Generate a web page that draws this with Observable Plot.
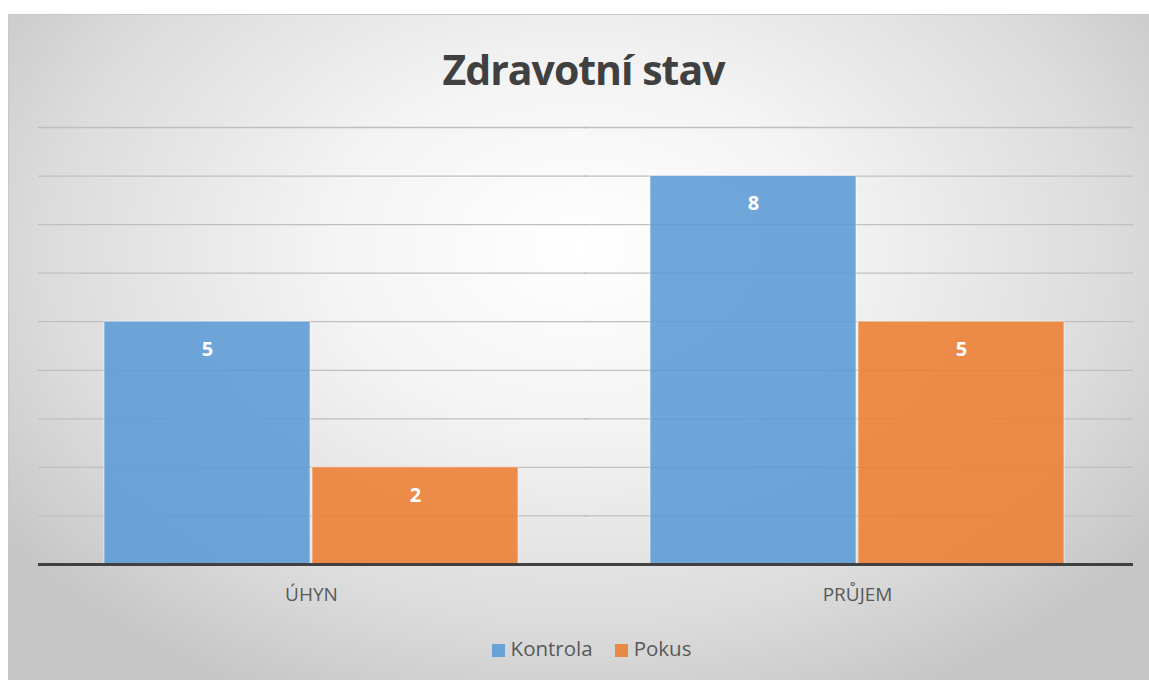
<!DOCTYPE html>
<html>
<head>
<meta charset="utf-8">
<script src="https://cdn.jsdelivr.net/npm/d3@7"></script>
<script src="https://cdn.jsdelivr.net/npm/@observablehq/plot@0.6"></script>
<style>
  html, body { margin: 0; padding: 0; background: #ffffff; width: 1149px; height: 680px; overflow: hidden; }
  #frame {
    position: absolute; left: 8px; top: 14px; width: 1141px; height: 666px;
    background: radial-gradient(ellipse 62% 75% at 50% 35%, #ffffff 0%, #f4f4f4 35%, #dcdcdc 75%, #c6c6c6 100%);
    border-top: 1px solid #c8c8c8; border-left: 1px solid #c8c8c8;
    font-family: "Open Sans", sans-serif;
  }
  #title {
    position: absolute; left: 4px; width: 100%; top: 26px; text-align: center;
    font-size: 41px; font-weight: bold; color: #404040; letter-spacing: -1px;
  }
  #chart { position: absolute; left: -1px; top: 100px; }
  #legend {
    position: absolute; left: 12px; width: 100%; top: 619px; text-align: center;
    font-size: 20.5px; color: #595959;
  }
  .sw { display: inline-block; width: 13px; height: 13px; margin-right: 6px; vertical-align: -1px; }
  .item { margin: 0 11px; }
</style>
</head>
<body>
<div id="frame">
  <div id="title">Zdravotní stav</div>
  <div id="chart"></div>
  <div id="legend"></div>
</div>
<script>
const categories = ["ÚHYN", "PRŮJEM"];
const seriesNames = ["Kontrola", "Pokus"];
const kontrola = [5, 8];
const pokus = [2, 5];
const colors = ["#5B9BD5", "#ED7D31"];
const yTicks = [0, 1, 2, 3, 4, 5, 6, 7, 8, 9];

const data = [];
categories.forEach((c, i) => {
  data.push({category: c, series: seriesNames[0], value: kontrola[i]});
  data.push({category: c, series: seriesNames[1], value: pokus[i]});
});

const chart = Plot.plot({
  width: 1141,
  height: 510,
  marginLeft: 30,
  marginRight: 19,
  marginTop: 12,
  marginBottom: 61,
  style: {background: "transparent", fontFamily: "Open Sans, sans-serif"},
  fx: {domain: categories, padding: 0, label: null, axis: null},
  x: {domain: seriesNames, paddingInner: 0.01, paddingOuter: 0.317, axis: null},
  y: {domain: [0, 9], axis: null},
  color: {domain: seriesNames, range: colors},
  marks: [
    Plot.ruleY(yTicks.filter(d => d > 0), {stroke: "#bfbfbf", strokeWidth: 1.3, insetRight: -3}),
    Plot.barY(data, {fx: "category", x: "series", y: "value", fill: "series", fillOpacity: 0.88, stroke: "#ffffff", strokeOpacity: 0.55, strokeWidth: 1}),
    Plot.text(data, {fx: "category", x: "series", y: "value", text: d => String(d.value), dy: 28, fill: "#ffffff", fontSize: 20, fontWeight: "bold"}),
    Plot.ruleY([0], {stroke: "#404040", strokeWidth: 3, insetRight: -3}),
    Plot.axisFx({domain: categories, anchor: "bottom", tickSize: 0, tickPadding: 23, fontSize: 19, color: "#595959", label: null})
  ]
});
document.getElementById("chart").appendChild(chart);

const legend = document.getElementById("legend");
seriesNames.forEach((s, i) => {
  const span = document.createElement("span");
  span.className = "item";
  span.innerHTML = `<span class="sw" style="background:${colors[i]};opacity:0.88"></span>${s}`;
  legend.appendChild(span);
});
</script>
</body>
</html>
